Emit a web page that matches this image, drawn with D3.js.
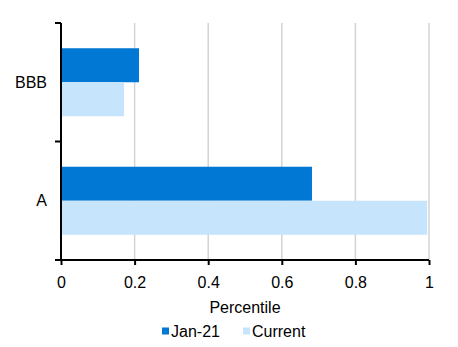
<!DOCTYPE html>
<html>
<head>
<meta charset="utf-8">
<script src="https://cdn.jsdelivr.net/npm/d3@7"></script>
<style>
  body { margin: 0; background: #fff; }
  text { font-family: "Liberation Sans", Arial, sans-serif; }
</style>
</head>
<body>
<div id="chart"></div>
<script>
// data
const categories = ["BBB", "A"];
const seriesNames = ["Jan-21", "Current"];
const jan21 = [0.212, 0.682];
const current = [0.171, 0.995];
const xTicks = [0, 0.2, 0.4, 0.6, 0.8, 1];

const colors = ["#0078d4", "#c6e4fc"];
const fontSize = 16;

const width = 458, height = 347;
const margin = { top: 23, right: 29, bottom: 87, left: 61 };

const svg = d3.select("#chart").append("svg")
    .attr("width", width)
    .attr("height", height);

const x = d3.scaleLinear()
    .domain([0, 1])
    .range([margin.left, width - margin.right]);

const y = d3.scaleBand()
    .domain(categories)
    .range([margin.top, height - margin.bottom])
    .paddingInner(0.426)
    .paddingOuter(0.213);

const ySub = d3.scaleBand()
    .domain(seriesNames)
    .range([0, y.bandwidth()]);

// gridlines
svg.append("g")
    .selectAll("line")
    .data(xTicks.slice(1))
    .join("line")
    .attr("x1", d => x(d))
    .attr("x2", d => x(d))
    .attr("y1", margin.top)
    .attr("y2", height - margin.bottom)
    .attr("stroke", "#d3d3d3")
    .attr("stroke-width", 1.5);

// bars
const rows = categories.map((c, i) => ({ cat: c, values: [jan21[i], current[i]] }));

svg.append("g")
    .selectAll("g")
    .data(rows)
    .join("g")
    .attr("transform", d => `translate(0,${y(d.cat)})`)
    .selectAll("rect")
    .data(d => d.values.map((v, j) => ({ name: seriesNames[j], v, j })))
    .join("rect")
    .attr("x", x(0))
    .attr("y", d => ySub(d.name))
    .attr("width", d => x(d.v) - x(0))
    .attr("height", ySub.bandwidth())
    .attr("fill", d => colors[d.j]);

// x axis
const xAxis = svg.append("g")
    .attr("transform", `translate(0,${height - margin.bottom})`)
    .call(d3.axisBottom(x).tickValues(xTicks).tickFormat(d3.format("")).tickSize(5).tickSizeOuter(0));
xAxis.select(".domain").attr("stroke", "#000").attr("stroke-width", 2)
    .attr("d", `M${x(0) - 6},0H${x(1)}`);
xAxis.selectAll(".tick line").attr("stroke", "#000").attr("stroke-width", 2);
xAxis.selectAll(".tick text")
    .attr("font-size", fontSize)
    .attr("fill", "#000")
    .attr("font-family", "'Liberation Sans', Arial, sans-serif")
    .attr("y", 22)
    .attr("dy", "0.35em");

// y axis
const yAxisG = svg.append("g");
yAxisG.append("line")
    .attr("x1", x(0)).attr("x2", x(0))
    .attr("y1", margin.top).attr("y2", height - margin.bottom)
    .attr("stroke", "#000").attr("stroke-width", 2);
// boundary ticks between categories
const bounds = [margin.top, (y(categories[0]) + y.bandwidth() + y(categories[1])) / 2, height - margin.bottom];
yAxisG.selectAll(".ytick")
    .data(bounds)
    .join("line")
    .attr("x1", x(0) - 6).attr("x2", x(0))
    .attr("y1", d => d).attr("y2", d => d)
    .attr("stroke", "#000").attr("stroke-width", 2);

yAxisG.selectAll(".ylab")
    .data(categories)
    .join("text")
    .attr("x", 47)
    .attr("y", d => y(d) + y.bandwidth() / 2)
    .attr("dy", "0.35em")
    .attr("text-anchor", "end")
    .attr("font-size", fontSize)
    .attr("fill", "#000")
    .text(d => d);

// axis title
svg.append("text")
    .attr("x", x(0.5))
    .attr("y", 307)
    .attr("dy", "0.35em")
    .attr("text-anchor", "middle")
    .attr("font-size", fontSize)
    .attr("fill", "#000")
    .text("Percentile");

// legend
const legendX = [162, 243];
const legend = svg.append("g")
    .selectAll("g")
    .data(seriesNames)
    .join("g")
    .attr("transform", (d, i) => `translate(${legendX[i]},331)`);
legend.append("rect")
    .attr("x", 0).attr("y", -3.5)
    .attr("width", 7).attr("height", 7)
    .attr("fill", (d, i) => colors[i]);
legend.append("text")
    .attr("x", 9)
    .attr("dy", "0.35em")
    .attr("font-size", fontSize)
    .attr("fill", "#000")
    .text(d => d);
</script>
</body>
</html>
